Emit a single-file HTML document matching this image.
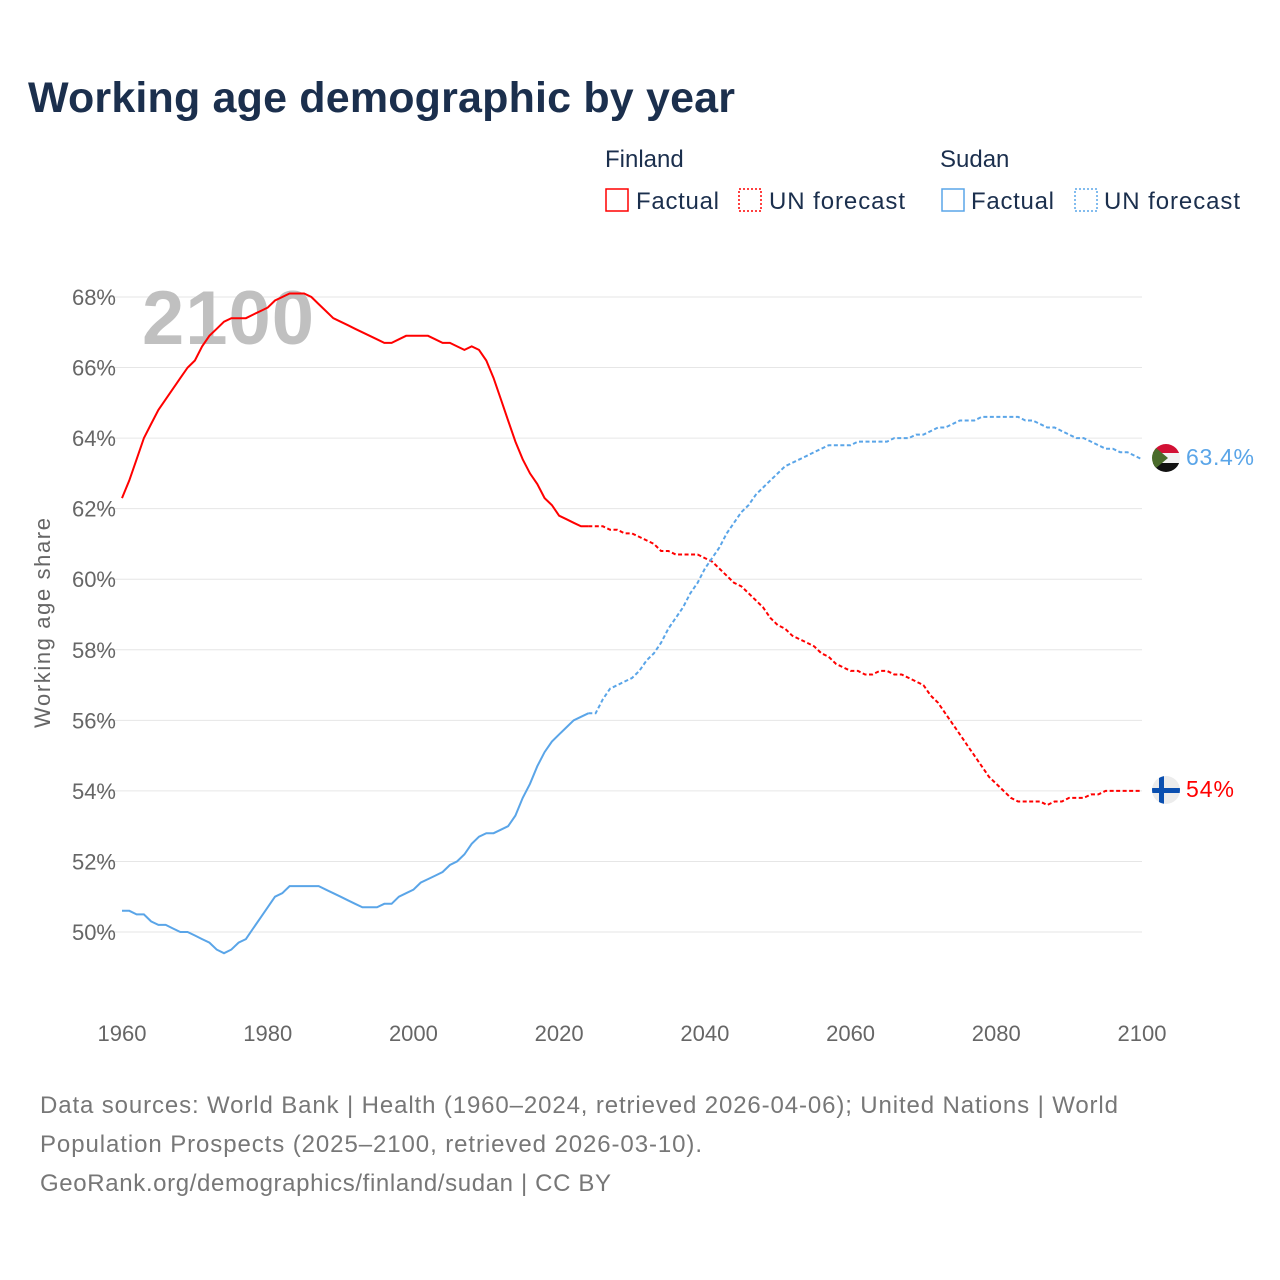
<!DOCTYPE html>
<html><head><meta charset="utf-8">
<style>
body{margin:0;background:#fff;font-family:"Liberation Sans",sans-serif;}
#wrap{position:relative;width:1280px;height:1280px;overflow:hidden;}
svg text{font-family:"Liberation Sans",sans-serif;}
</style></head>
<body>
<div id="wrap">
<svg id="chart" width="1280" height="1280">
<text x="28" y="112" font-size="43" font-weight="bold" fill="#1b2f4d" textLength="707">Working age demographic by year</text>
<g font-size="24" fill="#1b2f4d">
<text x="605" y="167">Finland</text>
<rect x="606" y="189" width="22" height="22" fill="none" stroke="#ff0000" stroke-width="1.5"/>
<text x="636" y="209" textLength="83">Factual</text>
<rect x="739" y="189" width="22" height="22" fill="none" stroke="#ff0000" stroke-width="1.5" stroke-dasharray="2,2"/>
<text x="769" y="209" textLength="136">UN forecast</text>
<text x="940" y="167">Sudan</text>
<rect x="942" y="189" width="22" height="22" fill="none" stroke="#5aa5e8" stroke-width="1.5"/>
<text x="971" y="209" textLength="83">Factual</text>
<rect x="1075" y="189" width="22" height="22" fill="none" stroke="#5aa5e8" stroke-width="1.5" stroke-dasharray="2,2"/>
<text x="1104" y="209" textLength="136">UN forecast</text>
</g>
<g id="grid"></g>
<text x="142" y="344" font-size="76" font-weight="bold" fill="#c0c0c0" textLength="172">2100</text>
<text transform="translate(50,623) rotate(-90)" text-anchor="middle" font-size="22" fill="#666" textLength="210">Working age share</text>
<g id="series"></g>
<g>
<clipPath id="cs"><circle cx="1166" cy="458" r="14"/></clipPath>
<g clip-path="url(#cs)"><rect x="1150" y="443" width="32" height="10" fill="#d21034"/><rect x="1150" y="453" width="32" height="10" fill="#f2f2f2"/><rect x="1150" y="463" width="32" height="12" fill="#111"/><polygon points="1150,443 1168,458 1150,473" fill="#4a6b2a"/></g>
</g>
<g>
<clipPath id="cf"><circle cx="1166" cy="790" r="14"/></clipPath>
<g clip-path="url(#cf)"><rect x="1150" y="775" width="32" height="30" fill="#ececec"/><rect x="1159" y="775" width="5" height="30" fill="#0a4fb0"/><rect x="1150" y="788" width="32" height="5" fill="#0a4fb0"/></g>
</g>
<text x="1186" y="465" font-size="23" fill="#5aa5e8" textLength="68">63.4%</text>
<text x="1186" y="797" font-size="23" fill="#ff0000" textLength="48">54%</text>
<g font-size="24" fill="#777">
<text x="40" y="1113" textLength="1078">Data sources: World Bank | Health (1960–2024, retrieved 2026-04-06); United Nations | World</text>
<text x="40" y="1152" textLength="662">Population Prospects (2025–2100, retrieved 2026-03-10).</text>
<text x="40" y="1191" textLength="571">GeoRank.org/demographics/finland/sudan | CC BY</text>
</g>
</svg>
</div>
<script>
const startYear = 1960;
const xTicks = [1960,1980,2000,2020,2040,2060,2080,2100];
const yTicks = [50,52,54,56,58,60,62,64,66,68];
const finlandFactual = [62.3,62.8,63.4,64.0,64.4,64.8,65.1,65.4,65.7,66.0,66.2,66.6,66.9,67.1,67.3,67.4,67.4,67.4,67.5,67.6,67.7,67.9,68.0,68.1,68.1,68.1,68.0,67.8,67.6,67.4,67.3,67.2,67.1,67.0,66.9,66.8,66.7,66.7,66.8,66.9,66.9,66.9,66.9,66.8,66.7,66.7,66.6,66.5,66.6,66.5,66.2,65.7,65.1,64.5,63.9,63.4,63.0,62.7,62.3,62.1,61.8,61.7,61.6,61.5,61.5];
const finlandForecast = [61.5,61.5,61.4,61.4,61.3,61.3,61.2,61.1,61.0,60.8,60.8,60.7,60.7,60.7,60.7,60.6,60.5,60.3,60.1,59.9,59.8,59.6,59.4,59.2,58.9,58.7,58.6,58.4,58.3,58.2,58.1,57.9,57.8,57.6,57.5,57.4,57.4,57.3,57.3,57.4,57.4,57.3,57.3,57.2,57.1,57.0,56.7,56.5,56.2,55.9,55.6,55.3,55.0,54.7,54.4,54.2,54.0,53.8,53.7,53.7,53.7,53.7,53.6,53.7,53.7,53.8,53.8,53.8,53.9,53.9,54.0,54.0,54.0,54.0,54.0,54.0];
const sudanFactual = [50.6,50.6,50.5,50.5,50.3,50.2,50.2,50.1,50.0,50.0,49.9,49.8,49.7,49.5,49.4,49.5,49.7,49.8,50.1,50.4,50.7,51.0,51.1,51.3,51.3,51.3,51.3,51.3,51.2,51.1,51.0,50.9,50.8,50.7,50.7,50.7,50.8,50.8,51.0,51.1,51.2,51.4,51.5,51.6,51.7,51.9,52.0,52.2,52.5,52.7,52.8,52.8,52.9,53.0,53.3,53.8,54.2,54.7,55.1,55.4,55.6,55.8,56.0,56.1,56.2];
const sudanForecast = [56.2,56.6,56.9,57.0,57.1,57.2,57.4,57.7,57.9,58.2,58.6,58.9,59.2,59.6,59.9,60.3,60.6,60.9,61.3,61.6,61.9,62.1,62.4,62.6,62.8,63.0,63.2,63.3,63.4,63.5,63.6,63.7,63.8,63.8,63.8,63.8,63.9,63.9,63.9,63.9,63.9,64.0,64.0,64.0,64.1,64.1,64.2,64.3,64.3,64.4,64.5,64.5,64.5,64.6,64.6,64.6,64.6,64.6,64.6,64.5,64.5,64.4,64.3,64.3,64.2,64.1,64.0,64.0,63.9,63.8,63.7,63.7,63.6,63.6,63.5,63.4];
const forecastStart = 2025;

const X = y => 122 + (y - 1960) * (1020 / 140);
const Y = v => 932 - (v - 50) * (635 / 18);
const NS = "http://www.w3.org/2000/svg";
const grid = document.getElementById('grid');
yTicks.forEach(t => {
  const l = document.createElementNS(NS, 'line');
  l.setAttribute('x1', 95); l.setAttribute('x2', 1142);
  l.setAttribute('y1', Y(t)); l.setAttribute('y2', Y(t));
  l.setAttribute('stroke', '#e6e6e6'); l.setAttribute('stroke-width', '1');
  
  
  grid.appendChild(l);
  const tx = document.createElementNS(NS, 'text');
  tx.setAttribute('x', 116); tx.setAttribute('y', Y(t) + 8);
  tx.setAttribute('text-anchor', 'end'); tx.setAttribute('font-size', '22'); tx.setAttribute('fill', '#666');
  tx.textContent = t + '%';
  
  
  grid.appendChild(tx);
});
xTicks.forEach(t => {
  const tx = document.createElementNS(NS, 'text');
  tx.setAttribute('x', X(t)); tx.setAttribute('y', 1041);
  tx.setAttribute('text-anchor', 'middle'); tx.setAttribute('font-size', '22'); tx.setAttribute('fill', '#666');
  tx.textContent = t;
  
  
  grid.appendChild(tx);
});
const series = document.getElementById('series');
function draw(pts, color, dashed, name) {
  const d = pts.map((p, i) => (i ? 'L' : 'M') + X(p[0]).toFixed(1) + ',' + Y(p[1]).toFixed(1)).join(' ');
  const p = document.createElementNS(NS, 'path');
  p.setAttribute('d', d); p.setAttribute('fill', 'none'); p.setAttribute('stroke', color);
  p.setAttribute('stroke-width', '2');
  if (dashed) p.setAttribute('stroke-dasharray', '4,2.5');
  
  
  series.appendChild(p);
}
function pairs(vals, y0) { return vals.map((v, i) => [y0 + i, v]); }
function drawCountry(fact, fore, color, key) {
  const f = pairs(fact, startYear);
  draw(f, color, false, key + '-factual-line');
  draw([f[f.length - 1]].concat(pairs(fore, forecastStart)), color, true, key + '-forecast-line');
}
drawCountry(finlandFactual, finlandForecast, '#ff0000', 'finland');
drawCountry(sudanFactual, sudanForecast, '#5aa5e8', 'sudan');
</script>
</body></html>
